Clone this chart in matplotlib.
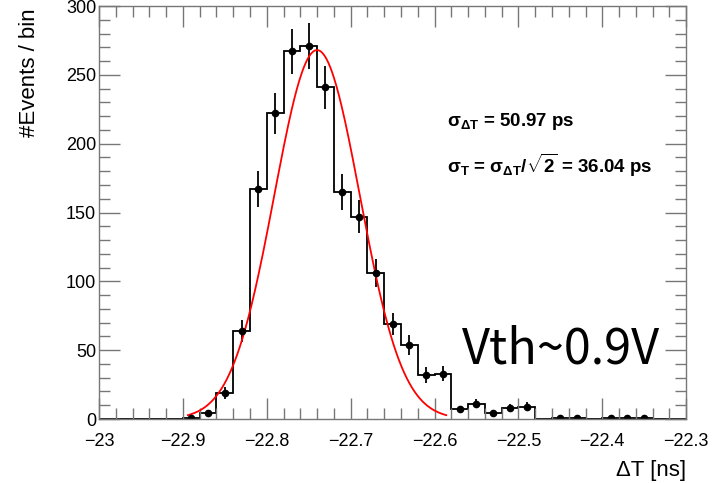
import numpy as np
import matplotlib
matplotlib.use("Agg")
import matplotlib.pyplot as plt
from matplotlib.ticker import MultipleLocator

plt.rcParams['font.family'] = ['Liberation Sans', 'DejaVu Sans']
plt.rcParams['mathtext.fontset'] = 'custom'
plt.rcParams['mathtext.rm'] = 'Liberation Sans'
plt.rcParams['mathtext.it'] = 'Liberation Sans'
plt.rcParams['mathtext.bf'] = 'Liberation Sans:bold'

# histogram: 35 bins of 0.02 ns from -23.0 to -22.3
bin_lo = -23.0
bin_w = 0.02
counts = [0, 0, 0, 0, 0,
          1, 4, 19, 64, 167, 222, 267, 271, 241, 165,
          147, 106, 69, 54, 32, 33, 7, 11, 4, 8,
          9, 0, 1, 1, 0, 1, 1, 1, 0, 0]

# gaussian fit parameters
fit_amp = 268.0
fit_mean = -22.740
fit_sigma = 0.05097
fit_lo, fit_hi = -22.894, -22.586

counts = np.array(counts, dtype=float)
edges = bin_lo + bin_w * np.arange(len(counts) + 1)
centers = 0.5 * (edges[:-1] + edges[1:])

fig = plt.figure(figsize=(7.17, 4.83), dpi=100)
ax = fig.add_axes([0.138, 0.1325, 0.819, 0.855])

ax.stairs(counts, edges, color='black', lw=1.3, baseline=0)
nz = counts > 0
ax.errorbar(centers[nz], counts[nz], yerr=np.sqrt(counts[nz]), fmt='o',
            color='black', ms=4.5, elinewidth=1.3, capsize=0)

xf = np.linspace(fit_lo, fit_hi, 300)
ax.plot(xf, fit_amp * np.exp(-0.5 * ((xf - fit_mean) / fit_sigma) ** 2),
        color='red', lw=1.3)

ax.set_xlim(-23.0, -22.3)
ax.set_ylim(0, 300)
ax.xaxis.set_major_locator(MultipleLocator(0.1))
ax.xaxis.set_minor_locator(MultipleLocator(0.02))
ax.yaxis.set_major_locator(MultipleLocator(50))
ax.yaxis.set_minor_locator(MultipleLocator(10))
ax.xaxis.set_major_formatter(matplotlib.ticker.FuncFormatter(
    lambda v, p: '\u221223' if abs(v + 23) < 1e-6 else '\u2212%.1f' % abs(v)))
ax.tick_params(which='both', direction='in', top=True, right=True,
               color='#777777', labelsize=13)
ax.tick_params(which='major', length=15, width=1)
ax.tick_params(which='minor', length=8, width=1)
ax.tick_params(axis='x', pad=10)
ax.tick_params(axis='y', pad=2)
for s in ax.spines.values():
    s.set_color('#777777')
    s.set_linewidth(1)

ax.set_ylabel('#Events / bin', fontsize=16, loc='top')
ax.yaxis.set_label_coords(-0.10, 0.995)
ax.set_xlabel('\u0394T [ns]', fontsize=16, loc='right')
ax.xaxis.set_label_coords(1.0, -0.099)

fig.text(447 / 717, 1 - 122 / 483, r'$\mathbf{\sigma_{\Delta T}}$ = 50.97 ps',
         fontsize=13.5, fontweight='bold', va='center')
fig.text(447 / 717, 1 - 165 / 483,
         r'$\mathbf{\sigma_{T}}$ = $\mathbf{\sigma_{\Delta T}/\sqrt{2}}$ = 36.04 ps',
         fontsize=13.5, fontweight='bold', va='center')
fig.text(462 / 717, 1 - 364 / 483, 'Vth~0.9V', fontsize=35, fontweight='light',
         family=['Noto Sans CJK SC', 'DejaVu Sans'], va='baseline')

fig.savefig('out.png', dpi=100)
